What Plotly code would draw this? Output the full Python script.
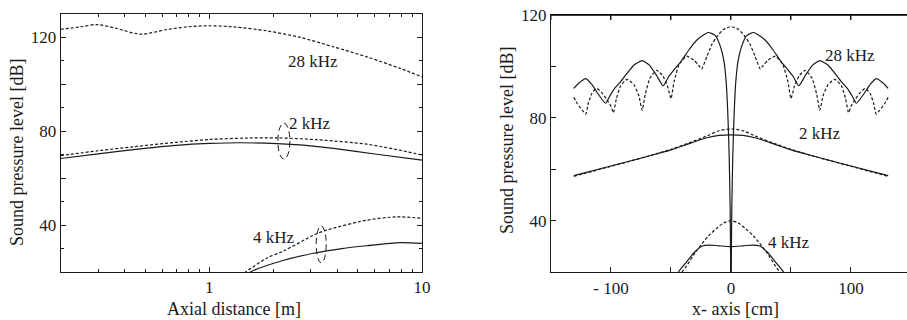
import plotly.graph_objects as go

# ---------------- Left panel: axial distance (m) ----------------
ax_28_dash_x = [0.2, 0.248, 0.296, 0.368, 0.474, 0.633, 0.785, 0.975, 1.3, 1.87, 2.68, 3.84, 5.51, 7.9, 10]
ax_28_dash_y = [123.5, 124.5, 125.5, 123.8, 121.4, 123.4, 124.5, 125.0, 124.5, 122.8, 120.0, 116.0, 111.7, 106.8, 103.2]

ax_2_dash_x = [0.2, 0.3, 0.44, 0.7, 1.0, 1.5, 2.08, 3.2, 5.5, 7.5, 10]
ax_2_dash_y = [69.6, 71.7, 73.4, 75.3, 76.5, 77.1, 77.2, 76.4, 74.5, 72.3, 69.9]
ax_2_solid_x = [0.2, 0.3, 0.44, 0.7, 1.0, 1.4, 2.08, 3.0, 3.84, 6.0, 10]
ax_2_solid_y = [68.4, 70.4, 72.2, 74.0, 74.8, 75.1, 74.7, 73.8, 72.7, 70.3, 67.7]

ax_4_dash_x = [1.4, 1.48, 1.87, 2.24, 3.09, 3.57, 5.5, 7.6, 10]
ax_4_dash_y = [18.5, 20.0, 26.0, 29.0, 35.7, 37.9, 42.1, 43.5, 42.9]
ax_4_solid_x = [1.5, 1.56, 2.24, 3.09, 4.2, 5.5, 7.9, 10]
ax_4_solid_y = [18.7, 20.0, 25.0, 28.0, 30.0, 31.2, 32.5, 32.2]

# ---------------- Right panel: x-axis (cm) ----------------
x28_dash = [-131, -128, -124, -121, -119, -116, -112, -108, -104, -100, -98, -95.5, -92, -86.5, -81, -77, -74,
            -71.5, -67.5, -62, -57, -53, -50, -47.5, -43, -37, -31, -27, -24.5, -20, -16, -11.7, -6, 0,
            6, 11.7, 16, 20, 24.5, 27, 31, 37, 43, 47.5, 50, 53, 57, 62, 67.5, 71.5,
            74, 77, 81, 86.5, 92, 95.5, 98, 100, 104, 108, 112, 116, 119, 121, 124, 128, 131]
y28_dash = [88, 85.5, 83, 81.5, 85.5, 89.5, 91.5, 90, 87.5, 84.5, 82, 87.5, 92.5, 95, 93, 89, 83,
            89, 95.5, 98.5, 96.5, 92.5, 87.5, 94, 101, 104, 102.5, 100.5, 99, 104, 108.5, 111.6, 114.5, 115.5,
            114.5, 111.6, 108.5, 104, 99, 100.5, 102.5, 104, 101, 94, 87.5, 92.5, 96.5, 98.5, 95.5, 89,
            83, 89, 93, 95, 92.5, 87.5, 82, 84.5, 87.5, 90, 91.5, 89.5, 85.5, 81.5, 83, 85.5, 88]

x28_solid = [-131, -127, -121, -116, -111, -104.5, -101, -97, -93, -88, -81, -74, -68, -62, -56.5, -52, -47,
             -41.5, -35, -28, -19, -13, -9, -6, -4, -2.5, -1.5, -0.7, -0.3, 0,
             0.3, 0.7, 1.5, 2.5, 4, 6, 9, 13, 19, 28, 35, 41.5, 47, 52, 56.5, 62, 68, 74, 81, 88, 93,
             97, 101, 104.5, 111, 116, 121, 127, 131]
y28_solid = [91.5, 93.5, 95.3, 93, 89.5, 85.7, 88.5, 91.5, 93.5, 96.5, 100.5, 102.3, 100.5, 96.5, 92.5, 96, 99,
             102, 106.5, 110.5, 113.2, 112, 108, 102.5, 94, 80, 65, 45, 25, -40,
             25, 45, 65, 80, 94, 102.5, 108, 112, 113.2, 110.5, 106.5, 102, 99, 96, 92.5, 96.5, 100.5, 102.3,
             100.5, 96.5, 93.5, 91.5, 88.5, 85.7, 89.5, 93, 95.3, 93.5, 91.5]

x2_solid = [-131, -100, -70, -50, -35, -20, -10, 0, 10, 20, 35, 50, 70, 100, 131]
y2_solid = [57.6, 61.3, 65.0, 67.6, 70.0, 72.3, 73.2, 73.4, 73.2, 72.3, 70.0, 67.6, 65.0, 61.3, 57.6]
x2_dash = [-131, -100, -70, -50, -35, -20, -10, 0, 10, 20, 35, 50, 70, 100, 131]
y2_dash = [57.3, 61.2, 65.0, 67.8, 70.3, 73.0, 75.0, 75.7, 75.0, 73.0, 70.3, 67.8, 65.0, 61.2, 57.3]

x4_dash = [-46, -41, -37, -30, -19, -12, -6, 0, 6, 12, 19, 30, 37, 41, 46]
y4_dash = [17, 20, 22.5, 27.5, 34, 37, 39.2, 40, 39.2, 37, 34, 27.5, 22.5, 20, 17]
x4_solid = [-47, -44, -38, -30, -24, -18, -10, 0, 10, 18, 24, 30, 38, 44, 47]
y4_solid = [17.5, 20, 23.5, 28, 30.2, 30.6, 30.3, 30.0, 30.3, 30.6, 30.2, 28, 23.5, 20, 17.5]

right_xticks = [-150, -100, -50, 0, 50, 100]
right_xlabels = ["", "- 100", "", "0", "", "100"]

FONT = "Liberation Serif"
INK = "#1a1a1a"
LW = 1.2
DASH = "3px,2px"

fig = go.Figure()

def add(x, y, dash, xa, ya, smoothing=0.8):
    fig.add_trace(go.Scatter(
        x=x, y=y, mode="lines", xaxis=xa, yaxis=ya, showlegend=False,
        line=dict(color=INK, width=LW, dash=dash, shape="spline", smoothing=smoothing),
        hoverinfo="skip"))

add(ax_28_dash_x, ax_28_dash_y, DASH, "x", "y")
add(ax_2_dash_x, ax_2_dash_y, DASH, "x", "y")
add(ax_2_solid_x, ax_2_solid_y, "solid", "x", "y")
add(ax_4_dash_x, ax_4_dash_y, DASH, "x", "y")
add(ax_4_solid_x, ax_4_solid_y, "solid", "x", "y")

add(x28_dash, y28_dash, DASH, "x2", "y2", smoothing=0.5)
add(x28_solid, y28_solid, "solid", "x2", "y2", smoothing=0.5)
add(x2_dash, y2_dash, DASH, "x2", "y2")
add(x2_solid, y2_solid, "solid", "x2", "y2")
add(x4_dash, y4_dash, DASH, "x2", "y2")
add(x4_solid, y4_solid, "solid", "x2", "y2")

W, H = 907, 320
tickfont = dict(family=FONT, size=17, color=INK)
common = dict(showline=True, linecolor=INK, linewidth=1, ticks="inside", tickcolor=INK,
              ticklen=5, tickwidth=1, showgrid=False, zeroline=False, tickfont=tickfont)

log_minor = [0.3, 0.4, 0.5, 0.6, 0.7, 0.8, 0.9, 2, 3, 4, 5, 6, 7, 8, 9]

R_TOP = 15.0  # px from top of right panel frame

fig.update_layout(
    width=W, height=H, autosize=False, margin=dict(l=0, r=0, t=0, b=0, autoexpand=False),
    paper_bgcolor="white", plot_bgcolor="white",
    font=dict(family=FONT, color=INK),
    xaxis=dict(common, type="log", domain=[60.7 / W, 422 / W], range=[-0.69897, 1],
               tickvals=[1, 10], ticktext=["1", "10"], mirror="ticks", anchor="y",
               minor=dict(ticks="inside", ticklen=3, tickcolor=INK, tickvals=log_minor)),
    yaxis=dict(common, domain=[1 - 272 / H, 1 - 14 / H], range=[20, 130],
               tickvals=[40, 60, 80, 100, 120], ticktext=["40", "", "80", "", "120"],
               mirror="ticks", anchor="x",
               minor=dict(ticks="inside", ticklen=3, tickcolor=INK, dtick=10, tick0=0)),
    xaxis2=dict(common, domain=[551 / W, 1], range=[-150, 146.7],
                tickvals=right_xticks, ticktext=right_xlabels,
                mirror="ticks", anchor="y2"),
    yaxis2=dict(common, domain=[1 - 272.3 / H, 1 - R_TOP / H], range=[20, 120],
                tickvals=[40, 60, 80, 100, 120], ticktext=["40", "", "80", "", "120"],
                mirror=False, anchor="x2"),
)

lab = dict(family=FONT, size=17, color=INK)
title = dict(family=FONT, size=18, color=INK)
ann = [
    dict(text="28 kHz", x=0.489, y=109.6, xref="x", yref="y", font=lab),
    dict(text="2 kHz", x=0.475, y=83.4, xref="x", yref="y", font=lab),
    dict(text="4 kHz", x=0.304, y=34.6, xref="x", yref="y", font=lab),
    dict(text="28 kHz", x=99.2, y=104.1, xref="x2", yref="y2", font=lab),
    dict(text="2 kHz", x=74.4, y=74.1, xref="x2", yref="y2", font=lab),
    dict(text="4 kHz", x=48.3, y=31.7, xref="x2", yref="y2", font=lab),
    dict(text="Axial distance [m]", x=234 / W, y=1 - 309 / H, xref="paper", yref="paper", font=title),
    dict(text="x- axis [cm]", x=735 / W, y=1 - 309 / H, xref="paper", yref="paper", font=title),
    dict(text="Sound pressure level [dB]", x=17 / W, y=1 - 153 / H, xref="paper", yref="paper",
         font=title, textangle=-90),
    dict(text="Sound pressure level [dB]", x=507 / W, y=1 - 141 / H, xref="paper", yref="paper",
         font=title, textangle=-90),
]
for a in ann:
    a.update(showarrow=False, xanchor="center", yanchor="middle")
fig.update_layout(annotations=ann)

# top frame line of the right panel, with its inward tick marks
fig.add_shape(type="line", xref="paper", yref="paper", x0=551 / W, x1=1, y0=1 - R_TOP / H, y1=1 - R_TOP / H,
              line=dict(color="#000000", width=1.6), layer="above")
for tv in right_xticks:
    fig.add_shape(type="line", xref="x2", yref="paper", x0=tv, x1=tv,
                  y0=1 - R_TOP / H, y1=1 - (R_TOP + 5) / H, line=dict(color=INK, width=1), layer="above")

# dashed ellipses marking curve pairs (left panel)
ellipse_line = dict(color=INK, width=1, dash="6px,4px")
fig.add_shape(type="circle", xref="x", yref="y", xsizemode="pixel", ysizemode="pixel",
              xanchor=2.1, yanchor=75.8, x0=-12, x1=12, y0=-18, y1=18, line=ellipse_line)
fig.add_shape(type="circle", xref="x", yref="y", xsizemode="pixel", ysizemode="pixel",
              xanchor=3.18, yanchor=31.8, x0=-10, x1=10, y0=-18.5, y1=18.5, line=ellipse_line)

fig.write_html("out.html",
               config={"responsive": False, "displayModeBar": False, "staticPlot": True},
               post_script="document.body.style.margin='0';document.body.style.overflow='hidden';")
